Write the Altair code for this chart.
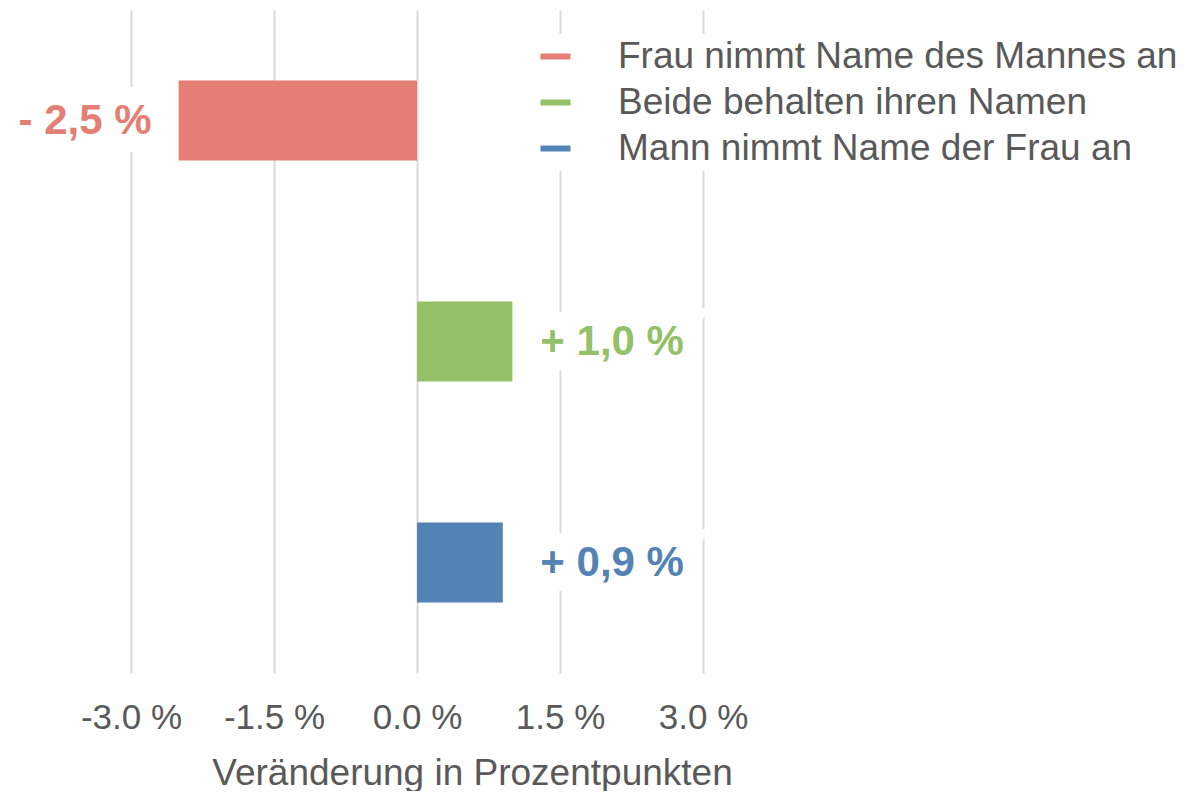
import altair as alt
import pandas as pd

categories = ["Frau nimmt Name des Mannes an", "Beide behalten ihren Namen", "Mann nimmt Name der Frau an"]
values = [-2.5, 1.0, 0.9]
labels = ["- 2,5 %", "+ 1,0 %", "+ 0,9 %"]
colors = ["#E57E74", "#94C067", "#5283B4"]
tick_values = [-3.0, -1.5, 0.0, 1.5, 3.0]

df = pd.DataFrame({"cat": categories, "val": values, "label": labels})

FONT = "Liberation Sans"
GREY = "#595959"

x_scale = alt.Scale(domain=[-4.29, 8.16], nice=False)
y_scale = alt.Scale(domain=categories, paddingInner=0.638, paddingOuter=0.319)
color_scale = alt.Scale(domain=categories, range=colors)

base = alt.Chart(df)

bars = base.mark_bar().encode(
    x=alt.X("val:Q", scale=x_scale,
            axis=alt.Axis(values=tick_values, title="Veränderung in Prozentpunkten",
                          labelExpr="(datum.value < 0 ? '-' : '') + format(abs(datum.value), '.1f') + ' %'",
                          grid=True, gridColor="#D9D9D9", gridWidth=2,
                          ticks=False, domain=False,
                          labelFontSize=35, labelColor=GREY, labelFont=FONT, labelPadding=27,
                          titleFontSize=37, titleColor=GREY, titleFont=FONT, titleFontWeight="normal",
                          titlePadding=20, titleX=464, titleAlign="center")),
    y=alt.Y("cat:N", scale=y_scale, sort=categories, axis=None),
    color=alt.Color("cat:N", scale=color_scale, sort=categories,
                    legend=alt.Legend(title=None, orient="none", legendX=525, legendY=24,
                                      symbolType="M-1,-0.2H1V0.2H-1Z", symbolSize=900,
                                      symbolStrokeWidth=0,
                                      labelFontSize=37, labelFont=FONT, labelColor=GREY,
                                      labelLimit=800, labelOffset=44, rowPadding=8,
                                      fillColor="white", padding=4)),
)


def txt(src, xfield, align, dx, halo):
    if halo:
        m = src.mark_text(align=align, dx=dx, baseline="middle", font=FONT, fontSize=42,
                          fontWeight="bold", stroke="white", strokeWidth=36, color="white")
        return m.encode(x=alt.X(f"{xfield}:Q", scale=x_scale),
                        y=alt.Y("cat:N", scale=y_scale, sort=categories),
                        text="label:N")
    m = src.mark_text(align=align, dx=dx, baseline="middle", font=FONT, fontSize=42, fontWeight="bold")
    return m.encode(x=alt.X(f"{xfield}:Q", scale=x_scale),
                    y=alt.Y("cat:N", scale=y_scale, sort=categories),
                    text="label:N",
                    color=alt.Color("cat:N", scale=color_scale, sort=categories, legend=None))


neg = base.transform_filter("datum.val < 0")
pos = base.transform_filter("datum.val >= 0").transform_joinaggregate(pmax="max(val)")

chart = alt.layer(
    bars,
    txt(neg, "val", "right", -27, True),
    txt(pos, "pmax", "left", 28, True),
    txt(neg, "val", "right", -27, False),
    txt(pos, "pmax", "left", 28, False),
).properties(
    width=1187, height=663, padding={"left": 0, "top": 2, "right": 0, "bottom": 0}
).configure_view(stroke=None)

chart.save("out.html", embed_options={"renderer": "svg", "actions": False})
